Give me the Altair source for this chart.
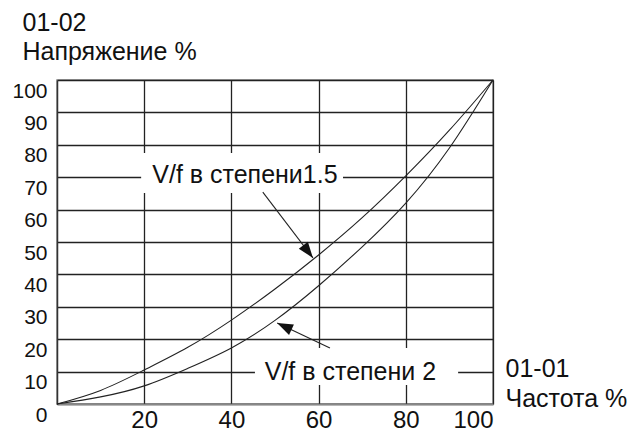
import math
import altair as alt
import pandas as pd

# ---- data ----
x_pct = [0, 10, 20, 30, 40, 50, 60, 70, 80, 90, 100]
v_pow15 = [0, 4.2, 10.5, 17.5, 25.9, 35.5, 46.0, 57.5, 70.4, 84.5, 100]
v_pow2 = [0, 2.2, 5.6, 11.0, 17.3, 25.8, 36.5, 48.5, 62.0, 79.0, 100]

x_ticks = [20, 40, 60, 80, 100]
y_ticks = [0, 10, 20, 30, 40, 50, 60, 70, 80, 90, 100]

label_text = ["V/f в степени1.5", "V/f в степени 2"]
label_x = [43.1, 67.3]
label_y = [70.6, 10.0]
box_x1 = [19.3, 45.4]
box_x2 = [65.6, 92.0]
box_y1 = [65.1, 5.9]
box_y2 = [77.5, 17.3]
arrow_x_from = [47.2, 62.6]
arrow_y_from = [65.4, 17.3]
arrow_x_to = [58.7, 50.5]
arrow_y_to = [45.1, 25.0]

W, H = 436, 324
FONT = "Liberation Sans"

curves = pd.DataFrame(
    {"x": x_pct * 2,
     "y": v_pow15 + v_pow2,
     "s": ["1.5"] * len(x_pct) + ["2"] * len(x_pct)}
)
labels = pd.DataFrame({"t": label_text, "x": label_x, "y": label_y})
boxes = pd.DataFrame({"x1": box_x1, "x2": box_x2, "y1": box_y1, "y2": box_y2})

# arrowhead rotation from the arrow direction in pixel space
angs = []
for xf, yf, xt, yt in zip(arrow_x_from, arrow_y_from, arrow_x_to, arrow_y_to):
    dx = (xt - xf) * W / 100.0
    dy = -(yt - yf) * H / 100.0
    a = math.degrees(math.atan2(dx, -dy)) % 360
    angs.append(a)
arrows = pd.DataFrame({"x1": arrow_x_from, "y1": arrow_y_from,
                       "x2": arrow_x_to, "y2": arrow_y_to, "ang": angs})

xscale = alt.Scale(domain=[0, 100], nice=False, zero=False)
yscale = alt.Scale(domain=[0, 100], nice=False, zero=False)

xaxis = alt.Axis(
    values=x_ticks, grid=True, ticks=False, labelPadding=4,
    labelFont=FONT, labelFontSize=24, labelColor="#111", labelBaseline="top",
    labelAngle=0,
    gridColor="#222", gridWidth=1.3, domainColor="#888", domainWidth=1.5,
    title=["01-01", "Частота %"], titleFont=FONT, titleFontSize=25,
    titleFontWeight="normal", titleColor="#111", titleAngle=0,
    titleAlign="left", titleBaseline="top", titleX=448, titleY=-48,
    titleLineHeight=30,
)
yaxis = alt.Axis(
    values=y_ticks, grid=True, ticks=False, labelPadding=10,
    labelFont=FONT, labelFontSize=21, labelColor="#111", labelBaseline="top",
    gridColor="#222", gridWidth=1.3, domainColor="#333", domainWidth=1.5,
    title=["01-02", "Напряжение %"], titleFont=FONT, titleFontSize=25,
    titleFontWeight="normal", titleColor="#111", titleAngle=0,
    titleAlign="left", titleBaseline="top", titleX=-35, titleY=-70,
    titleLineHeight=29,
)

box_layer = alt.Chart(boxes).mark_rect(fill="white", stroke=None).encode(
    x=alt.X("x1:Q", scale=xscale, axis=xaxis),
    x2="x2:Q",
    y=alt.Y("y1:Q", scale=yscale, axis=yaxis),
    y2="y2:Q",
)

line_layer = alt.Chart(curves).mark_line(
    color="#222", strokeWidth=1.1, interpolate="natural"
).encode(
    x=alt.X("x:Q", scale=xscale, axis=xaxis),
    y=alt.Y("y:Q", scale=yscale, axis=yaxis),
    detail="s:N",
)

arrow_layer = alt.Chart(arrows).mark_rule(color="#222", strokeWidth=1.1).encode(
    x=alt.X("x1:Q", scale=xscale, axis=xaxis),
    y=alt.Y("y1:Q", scale=yscale, axis=yaxis),
    x2="x2:Q",
    y2="y2:Q",
)

head_layer = alt.Chart(arrows).mark_point(
    shape="M0,0L-0.36,1L0.36,1Z", filled=True, fill="#111", stroke=None,
    size=1000, opacity=1,
).encode(
    x=alt.X("x2:Q", scale=xscale, axis=xaxis),
    y=alt.Y("y2:Q", scale=yscale, axis=yaxis),
    angle=alt.Angle("ang:Q", scale=None),
)

text_layer = alt.Chart(labels).mark_text(
    font=FONT, fontSize=25, color="#111", align="center", baseline="middle",
).encode(
    x=alt.X("x:Q", scale=xscale, axis=xaxis),
    y=alt.Y("y:Q", scale=yscale, axis=yaxis),
    text="t:N",
)

chart = alt.layer(
    box_layer, line_layer, arrow_layer, head_layer, text_layer
).properties(
    width=W, height=H,
    autosize=alt.AutoSizeParams(type="none"),
    padding={"left": 49, "top": 72, "right": 135, "bottom": 30},
    background="white",
).configure_view(stroke="#888", strokeWidth=1.5)

chart.save("out.html", embed_options={"renderer": "svg", "actions": False})
